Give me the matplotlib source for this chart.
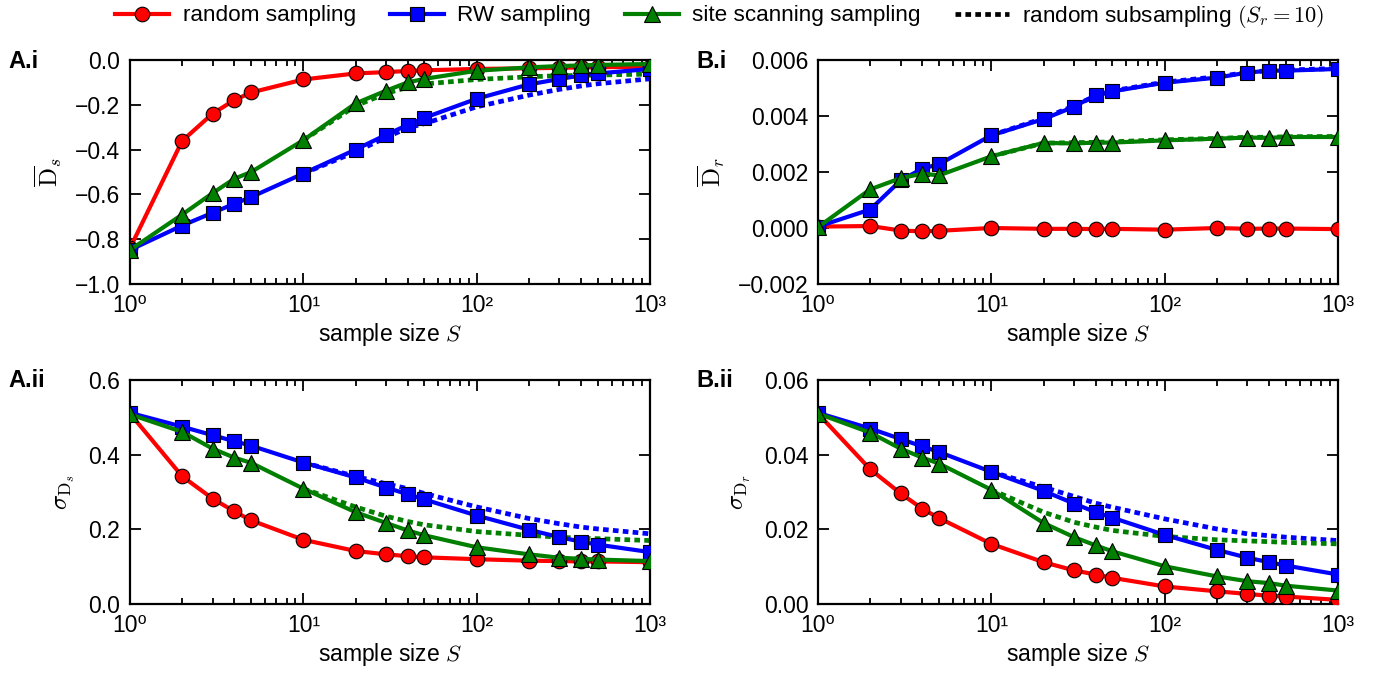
import matplotlib
matplotlib.use("Agg")
import math
import matplotlib.pyplot as plt
from matplotlib.ticker import FixedLocator, LogLocator, NullFormatter, FuncFormatter
from matplotlib.lines import Line2D

plt.rcParams['font.family'] = ['Liberation Sans', 'DejaVu Sans']
plt.rcParams['mathtext.fontset'] = 'cm'
plt.rcParams['font.size'] = 14

S = [1, 2, 3, 4, 5, 10, 20, 30, 40, 50, 100, 200, 300, 400, 500, 1000]
S_sub = [10, 20, 30, 40, 50, 100, 200, 300, 400, 500, 1000]

# A.i  mean D_s
Ai_random = [-0.84, -0.361, -0.239, -0.179, -0.145, -0.087, -0.060, -0.054, -0.049, -0.046, -0.040, -0.037, -0.035, -0.033, -0.032, -0.030]
Ai_rw = [-0.848, -0.739, -0.682, -0.642, -0.612, -0.507, -0.400, -0.334, -0.290, -0.258, -0.173, -0.109, -0.085, -0.069, -0.060, -0.040]
Ai_site = [-0.848, -0.690, -0.594, -0.530, -0.500, -0.358, -0.194, -0.137, -0.100, -0.084, -0.048, -0.033, -0.027, -0.024, -0.022, -0.018]
Ai_rw_sub = [-0.507, -0.410, -0.346, -0.303, -0.284, -0.209, -0.157, -0.131, -0.116, -0.106, -0.084]
Ai_site_sub = [-0.358, -0.205, -0.149, -0.122, -0.107, -0.087, -0.075, -0.070, -0.069, -0.067, -0.063]

# B.i  mean D_r
Bi_random = [0.00005, 0.00007, -0.00009, -0.00012, -0.00010, 0.0, -0.00003, -0.00003, -0.00004, -0.00003, -0.00006, 0.0, -0.00003, -0.00002, -0.00002, -0.00004]
Bi_rw = [0.00005, 0.00066, 0.00170, 0.00212, 0.00228, 0.00331, 0.00389, 0.00433, 0.00475, 0.00488, 0.00519, 0.00537, 0.00555, 0.00562, 0.00562, 0.00568]
Bi_site = [0.00003, 0.00138, 0.00178, 0.00194, 0.00188, 0.00256, 0.00304, 0.00302, 0.00305, 0.00305, 0.00313, 0.00319, 0.00323, 0.00322, 0.00325, 0.00325]
Bi_rw_sub = [0.00331, 0.00392, 0.00436, 0.00472, 0.00490, 0.00521, 0.00540, 0.00556, 0.00562, 0.00564, 0.00570]
Bi_site_sub = [0.00256, 0.00303, 0.00305, 0.00306, 0.00308, 0.00315, 0.00320, 0.00324, 0.00324, 0.00326, 0.00327]

# A.ii  sigma D_s
Aii_random = [0.510, 0.342, 0.282, 0.248, 0.224, 0.172, 0.142, 0.133, 0.128, 0.125, 0.120, 0.116, 0.115, 0.114, 0.114, 0.112]
Aii_rw = [0.512, 0.475, 0.452, 0.436, 0.424, 0.379, 0.339, 0.312, 0.294, 0.280, 0.237, 0.199, 0.179, 0.167, 0.159, 0.139]
Aii_site = [0.508, 0.461, 0.416, 0.392, 0.378, 0.309, 0.246, 0.217, 0.197, 0.184, 0.152, 0.133, 0.124, 0.121, 0.119, 0.115]
Aii_rw_sub = [0.379, 0.342, 0.322, 0.309, 0.296, 0.260, 0.229, 0.215, 0.206, 0.201, 0.188]
Aii_site_sub = [0.309, 0.260, 0.235, 0.221, 0.212, 0.194, 0.184, 0.179, 0.176, 0.175, 0.170]

# B.ii  sigma D_r
Bii_random = [0.0510, 0.0361, 0.0296, 0.0255, 0.0230, 0.0161, 0.0112, 0.0090, 0.0079, 0.0070, 0.0047, 0.0034, 0.0027, 0.0022, 0.0020, 0.0011]
Bii_rw = [0.0512, 0.0470, 0.0442, 0.0422, 0.0407, 0.0354, 0.0303, 0.0269, 0.0246, 0.0231, 0.0185, 0.0145, 0.0124, 0.0112, 0.0103, 0.0079]
Bii_site = [0.0510, 0.0459, 0.0416, 0.0392, 0.0376, 0.0306, 0.0217, 0.0179, 0.0157, 0.0141, 0.0101, 0.0074, 0.0061, 0.0056, 0.0049, 0.0036]
Bii_rw_sub = [0.0354, 0.0313, 0.0288, 0.0270, 0.0259, 0.0228, 0.0201, 0.0188, 0.0183, 0.0179, 0.0170]
Bii_site_sub = [0.0306, 0.0246, 0.0219, 0.0206, 0.0197, 0.0181, 0.0172, 0.0169, 0.0167, 0.0165, 0.0161]

RED, BLUE, GREEN = '#ff0000', '#0000ff', '#007f00'
LW = 3.0
MS = 10.5
DASH = (0, (1.2, 0.9))

fig = plt.figure(figsize=(13.9, 6.77), dpi=100)

W = 520 / 1390
H = 224 / 677
axes_info = [
    ((130 / 1390, 1 - 284 / 677, W, H), 'A.i', Ai_random, Ai_rw, Ai_site, Ai_rw_sub, Ai_site_sub,
     (-1.0, 0.0), [-1.0, -0.8, -0.6, -0.4, -0.2, 0.0], '%.1f', r'$\overline{\mathrm{D}}_s$'),
    ((818 / 1390, 1 - 284 / 677, W, H), 'B.i', Bi_random, Bi_rw, Bi_site, Bi_rw_sub, Bi_site_sub,
     (-0.002, 0.006), [-0.002, 0.0, 0.002, 0.004, 0.006], '%.3f', r'$\overline{\mathrm{D}}_r$'),
    ((130 / 1390, 1 - 604 / 677, W, H), 'A.ii', Aii_random, Aii_rw, Aii_site, Aii_rw_sub, Aii_site_sub,
     (0.0, 0.6), [0.0, 0.2, 0.4, 0.6], '%.1f', r'$\sigma_{\mathrm{D}_s}$'),
    ((818 / 1390, 1 - 604 / 677, W, H), 'B.ii', Bii_random, Bii_rw, Bii_site, Bii_rw_sub, Bii_site_sub,
     (0.0, 0.06), [0.0, 0.02, 0.04, 0.06], '%.2f', r'$\sigma_{\mathrm{D}_r}$'),
]

sup = {0: '10\u2070', 1: '10\u00b9', 2: '10\u00b2', 3: '10\u00b3'}

def fmt_x(v, pos):
    e = int(round(math.log10(v)))
    return sup.get(e, '')

for rect, lab, r, b, g, bs, gs, ylim, yt, yf, ylab in axes_info:
    ax = fig.add_axes(rect)
    ax.set_xscale('log')
    ax.plot(S_sub, bs, color=BLUE, lw=3.4, linestyle=DASH, zorder=2)
    ax.plot(S_sub, gs, color=GREEN, lw=3.4, linestyle=DASH, zorder=2)
    ax.plot(S, r, color=RED, lw=LW, marker='o', ms=MS, mec='k', mew=0.8, zorder=3)
    ax.plot(S, b, color=BLUE, lw=LW, marker='s', ms=MS, mec='k', mew=0.8, zorder=4)
    ax.plot(S, g, color=GREEN, lw=LW, marker='^', ms=MS + 1, mec='k', mew=0.8, zorder=5)
    ax.set_xlim(1, 1000)
    ax.set_ylim(*ylim)
    ax.set_yticks(yt)
    ax.yaxis.set_major_formatter(FuncFormatter(lambda v, p, f=yf: (f % v).replace('-', '\u2212')))
    ax.xaxis.set_major_locator(FixedLocator([1, 10, 100, 1000]))
    ax.xaxis.set_minor_locator(LogLocator(base=10, subs=range(2, 10)))
    ax.xaxis.set_minor_formatter(NullFormatter())
    ax.xaxis.set_major_formatter(FuncFormatter(fmt_x))
    ax.tick_params(which='both', direction='in', top=True, right=True, labelsize=16.5, width=1.3)
    ax.tick_params(which='major', length=8, pad=7)
    ax.tick_params(which='minor', length=4)
    for sp in ax.spines.values():
        sp.set_linewidth(1.6)
    ax.set_xlabel(r'sample size $S$', fontsize=16.5, labelpad=3)
    ax.set_ylabel(ylab, fontsize=18, labelpad=8)
    x0 = rect[0] * 1390
    y0 = (1 - rect[1] - rect[3]) * 677
    fig.text((x0 - 122) / 1390, 1 - (y0 + 1) / 677, lab, fontsize=17, fontweight='bold',
             ha='left', va='center')

handles = [
    Line2D([], [], color=RED, lw=LW, marker='o', ms=MS, mec='k', mew=0.8),
    Line2D([], [], color=BLUE, lw=LW, marker='s', ms=MS, mec='k', mew=0.8),
    Line2D([], [], color=GREEN, lw=LW, marker='^', ms=MS + 1, mec='k', mew=0.8),
    Line2D([], [], color='k', lw=3.4, linestyle=DASH),
]
labels = ['random sampling', 'RW sampling', 'site scanning sampling', r'random subsampling $(S_r = 10)$']
fig.legend(handles, labels, loc='center', bbox_to_anchor=(0.518, 1 - 16 / 677), ncol=4, frameon=False,
           fontsize=16.2, handlelength=2.4, columnspacing=1.5, handletextpad=0.6, numpoints=1)

fig.savefig('out.png', dpi=100)
